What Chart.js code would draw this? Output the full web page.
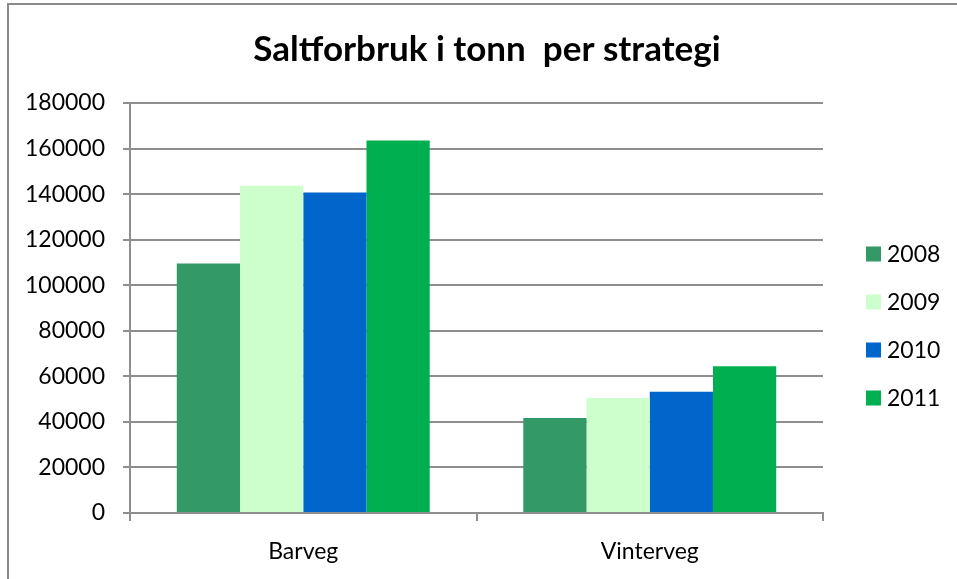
<!DOCTYPE html>
<html>
<head>
<meta charset="utf-8">
<script src="https://cdn.jsdelivr.net/npm/chart.js@4"></script>
<style>
  html, body { margin: 0; padding: 0; background: #fff; overflow: hidden; }
</style>
</head>
<body>
<canvas id="myChart" width="957" height="579"></canvas>
<script>
// data
const categories = ['Barveg', 'Vinterveg'];
const years = ['2008', '2009', '2010', '2011'];
const v2008 = [109500, 41700];
const v2009 = [143700, 50500];
const v2010 = [140700, 53200];
const v2011 = [163500, 64400];
const colours = ['#339966', '#CCFFCC', '#0066CC', '#00B050'];
const yTicks = [0, 20000, 40000, 60000, 80000, 100000, 120000, 140000, 160000, 180000];

const FONT = 'Lato, "Liberation Sans", sans-serif';
const gridGrey = '#8e8e8e';

// frame round the chart (left and top edge visible in the picture)
const framePlugin = {
  id: 'frame',
  afterDraw(chart) {
    const ctx = chart.ctx;
    ctx.save();
    ctx.strokeStyle = '#8a8a8a';
    ctx.lineWidth = 2;
    ctx.beginPath();
    ctx.moveTo(8, 579);
    ctx.lineTo(8, 4);
    ctx.lineTo(957, 4);
    ctx.stroke();
    ctx.restore();
  }
};

// legend on the right, drawn by hand so it sits where the picture has it
const sideLegend = {
  id: 'sideLegend',
  afterDraw(chart) {
    const ctx = chart.ctx;
    const x = chart.chartArea.right + 43;
    const y0 = 254, step = 48;
    ctx.save();
    ctx.font = '23px ' + FONT;
    ctx.textBaseline = 'middle';
    ctx.textAlign = 'left';
    chart.data.datasets.forEach((ds, i) => {
      const y = y0 + i * step;
      ctx.fillStyle = ds.backgroundColor;
      ctx.fillRect(x, y - 7.5, 15, 15);
      ctx.fillStyle = '#000';
      ctx.fillText(ds.label, x + 21, y + 1);
    });
    ctx.restore();
  }
};

const seriesValues = [v2008, v2009, v2010, v2011];
const data = {
  labels: categories,
  datasets: years.map((y, i) => ({
    label: y,
    data: seriesValues[i],
    backgroundColor: colours[i],
    borderWidth: 0
  }))
};

const config = {
  type: 'bar',
  data,
  options: {
    responsive: false,
    animation: false,
    layout: { padding: { left: 17, right: 0, top: 0, bottom: 0 } },
    datasets: { bar: { categoryPercentage: 0.73, barPercentage: 1.0 } },
    plugins: {
      title: {
        display: true,
        text: 'Saltforbruk i tonn  per strategi',
        color: '#000',
        font: { family: FONT, size: 35, weight: 'bold', lineHeight: 1.2 },
        padding: { top: 29, bottom: 32 }
      },
      legend: { display: false },
      tooltip: { enabled: false }
    },
    scales: {
      x: {
        grid: { display: true, drawOnChartArea: false, drawTicks: true, tickLength: 8, color: gridGrey, lineWidth: 2, offset: true },
        border: { display: true, color: gridGrey, width: 2 },
        ticks: { color: '#000', font: { family: FONT, size: 23 }, padding: 17 },
        afterFit(s) { s.height = 66; }
      },
      y: {
        min: 0,
        max: 180000,
        afterBuildTicks(s) { s.ticks = yTicks.map(v => ({ value: v })); },
        grid: { color: gridGrey, lineWidth: 2, tickLength: 7 },
        border: { display: true, color: gridGrey, width: 2 },
        ticks: { color: '#000', font: { family: FONT, size: 23 }, padding: 18, callback: v => String(v) },
        afterFit(s) { s.width = 113; }
      },
      // empty right-hand space that the legend sits in
      pad: {
        type: 'linear',
        position: 'right',
        display: true,
        grid: { display: false },
        border: { display: false },
        ticks: { display: false },
        afterFit(s) { s.width = 134; }
      }
    }
  },
  plugins: [framePlugin, sideLegend]
};

var myChart = new Chart(document.getElementById('myChart'), config);
</script>
</body>
</html>
